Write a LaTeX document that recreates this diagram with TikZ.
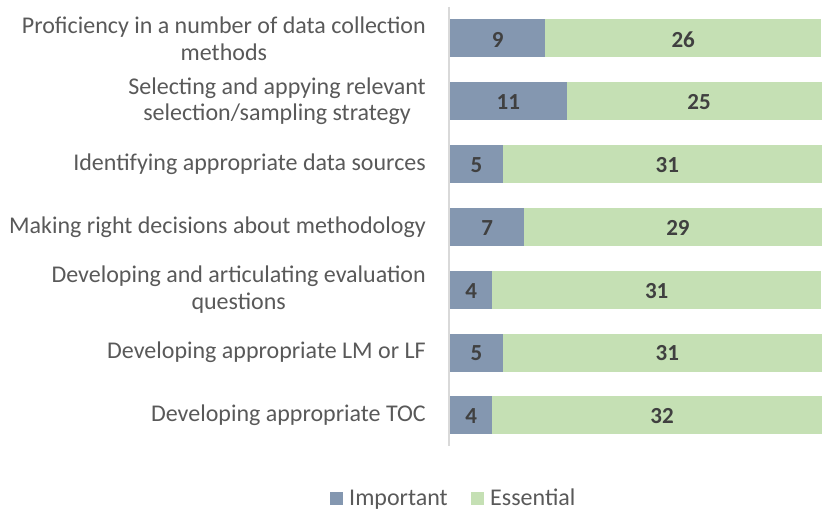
\documentclass[tikz,border=0pt]{standalone}
\usepackage{fontspec}
\setmainfont{Carlito}
\usetikzlibrary{positioning}
\definecolor{impblue}{HTML}{8497B0}
\definecolor{essgreen}{HTML}{C5E0B4}
\definecolor{labgray}{HTML}{595959}
\definecolor{valgray}{HTML}{404040}
\definecolor{axisgray}{HTML}{D9D9D9}
\newcommand{\unitpx}{10.6}

\begin{document}
\begin{tikzpicture}[x=1pt,y=-1pt,
    catlabel/.style={anchor=east, align=center, text=labgray, inner sep=0pt,
      font=\fontsize{24}{26.7}\selectfont},
    vallabel/.style={text=valgray, inner sep=0pt, font=\fontsize{23}{26}\selectfont\bfseries},
    legendbox/.style={minimum size=13pt, inner sep=0pt},
    legendtext/.style={anchor=base west, text=labgray, inner sep=0pt,
      font=\fontsize{24}{26.7}\selectfont}]
    \clip (0,0) rectangle (822,513);

    % Axis
    \coordinate (axtop) at (449,7);
    \coordinate (axbot) at (449,446);
    \draw[axisgray, line width=1.3pt] (axtop) -- (axbot);

    % Bars and labels
    \foreach \i/\imp/\ess/\txt in {
        1/9/26/{Proficiency in a number of data collection\\methods},
        2/11/25/{Selecting and appying relevant\\selection/sampling strategy},
        3/5/31/{Identifying appropriate data sources},
        4/7/29/{Making right decisions about methodology},
        5/4/31/{Developing and articulating evaluation\\questions},
        6/5/31/{Developing appropriate LM or LF},
        7/4/32/{Developing appropriate TOC}}{
        \pgfmathsetmacro{\yc}{38.5+62.8*(\i-1)}
        \pgfmathsetmacro{\xa}{450+\imp*\unitpx}
        \pgfmathsetmacro{\xb}{\xa+\ess*\unitpx}
        \fill[impblue] (450,\yc-19) rectangle (\xa,\yc+19);
        \fill[essgreen] (\xa,\yc-19) rectangle (\xb,\yc+19);
        \node[vallabel] (imp\i) at ({(450+\xa)/2},\yc+1) {\imp};
        \node[vallabel] (ess\i) at ({(\xa+\xb)/2},\yc+1) {\ess};
        \node[catlabel] (cat\i) at (426,\yc) {\txt};
    }

    % Legend
    \node[legendbox, fill=impblue] (legimp) at (336.5,498.7) {};
    \node[legendtext] (legimptxt) at (349,505) {Important};
    \node[legendbox, fill=essgreen] (legess) at (477.5,498.7) {};
    \node[legendtext] (legesstxt) at (490,505) {Essential};
\end{tikzpicture}
\end{document}
